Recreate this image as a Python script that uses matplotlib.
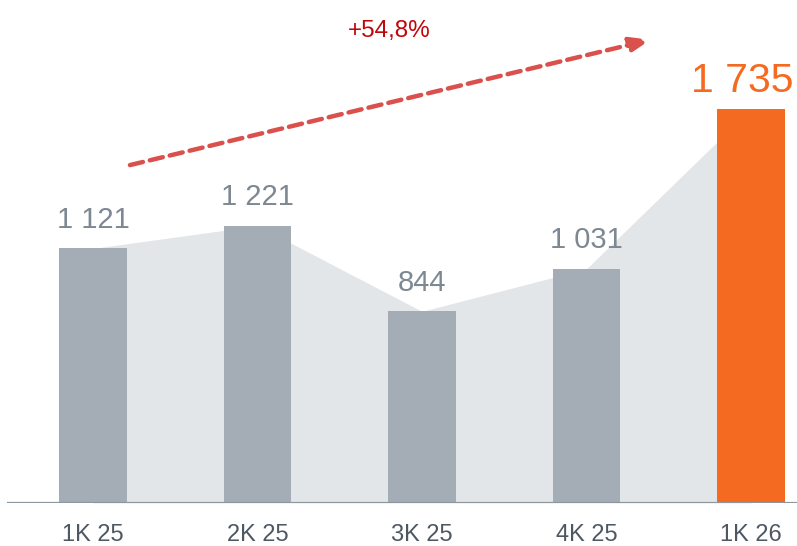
import matplotlib
matplotlib.use("Agg")
import matplotlib.pyplot as plt
import numpy as np

plt.rcParams['font.family'] = ['Liberation Sans', 'DejaVu Sans']

quarters = ['1K 25', '2K 25', '3K 25', '4K 25', '1K 26']
values = [1121, 1221, 844, 1031, 1735]
labels = ['1 121', '1 221', '844', '1 031', '1 735']
growth_label = '+54,8%'

grey_bar = '#a4acb5'
orange = '#f46a21'
area_col = '#e2e6e8'

fig = plt.figure(figsize=(7.97, 5.46), dpi=100)
# axes bottom sits on the baseline of the bars
ax = fig.add_axes([0, 43 / 546, 1, 503 / 546])
x = np.arange(len(values))

ax.fill_between(x, 0, values, color=area_col, lw=0, zorder=1)
colors = [grey_bar] * (len(values) - 1) + [orange]
ax.bar(x, values, width=0.41, color=colors, zorder=2)

ax.set_xlim(-0.565, 4.28)
ax.set_ylim(0, 2215)

for xi, v, lab, c in zip(x, values, labels, colors):
    if c == orange:
        # last label is pushed a bit left so it stays inside the figure
        ax.text(xi - 0.055, v + 75, lab, ha='center', va='baseline', fontsize=29.5, color=orange)
    else:
        ax.text(xi, v + 90, lab, ha='center', va='baseline', fontsize=21, color='#7d8893')

# baseline
ax.axhline(0, xmin=0.01, xmax=1, color='#8d979f', lw=1.6, zorder=3)

# growth arrow
ax.annotate('', xy=(3.39, 2040), xytext=(0.225, 1488),
            arrowprops=dict(arrowstyle='-|>,head_length=1.2,head_width=0.45',
                            color='#d9504c', lw=3.2, linestyle=(0, (3, 1.6)),
                            shrinkA=0, shrinkB=0),
            annotation_clip=False)
ax.text(1.80, 2050, growth_label, ha='center', va='baseline', fontsize=17.5, color='#c0070c')

ax.set_xticks(x)
ax.set_xticklabels(quarters, fontsize=17, color='#4d5863')
ax.tick_params(axis='x', length=0, pad=15)
ax.set_yticks([])
for s in ax.spines.values():
    s.set_visible(False)

fig.savefig('out.png', dpi=100)
